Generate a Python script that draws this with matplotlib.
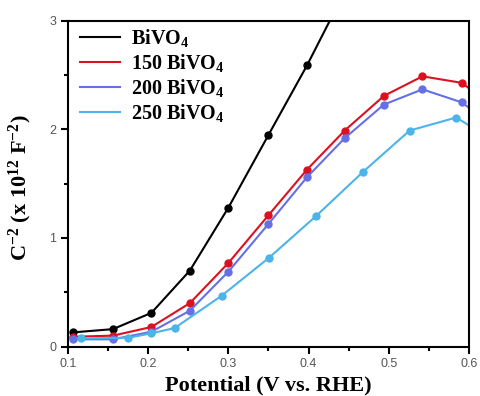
import matplotlib
matplotlib.use("Agg")
import matplotlib.pyplot as plt
from matplotlib.ticker import MultipleLocator

plt.rcParams["mathtext.fontset"] = "custom"
plt.rcParams["mathtext.rm"] = "Liberation Serif:bold"
plt.rcParams["mathtext.it"] = "Liberation Serif:bold"
plt.rcParams["mathtext.bf"] = "Liberation Serif:bold"
plt.rcParams["mathtext.default"] = "rm"

labels = ["BiVO$_4$", "150 BiVO$_4$", "200 BiVO$_4$", "250 BiVO$_4$"]
colors = ["#000000", "#dd1020", "#6670e6", "#4cb4e8"]

x_bivo4 = [0.106, 0.156, 0.204, 0.252, 0.300, 0.350, 0.398, 0.447]
y_bivo4 = [0.13, 0.16, 0.31, 0.70, 1.28, 1.95, 2.59, 3.30]

x_150 = [0.106, 0.156, 0.204, 0.252, 0.300, 0.350, 0.398, 0.445, 0.494, 0.542, 0.591, 0.640]
y_150 = [0.09, 0.10, 0.18, 0.40, 0.77, 1.21, 1.63, 1.99, 2.31, 2.49, 2.43, 2.16]

x_200 = [0.106, 0.156, 0.204, 0.252, 0.300, 0.350, 0.398, 0.445, 0.494, 0.542, 0.591, 0.640]
y_200 = [0.066, 0.066, 0.136, 0.33, 0.69, 1.13, 1.56, 1.92, 2.23, 2.37, 2.25, 1.98]

x_250 = [0.116, 0.175, 0.203, 0.233, 0.292, 0.351, 0.409, 0.468, 0.526, 0.584, 0.640]
y_250 = [0.075, 0.08, 0.12, 0.17, 0.47, 0.82, 1.20, 1.61, 1.99, 2.11, 1.86]

xs = [x_bivo4, x_150, x_200, x_250]
ys = [y_bivo4, y_150, y_200, y_250]

fig = plt.figure(figsize=(4.8, 3.96), dpi=100)
ax = fig.add_axes([0.1417, 0.125, 0.977 - 0.1417, 0.947 - 0.125])

for x, y, c, lab in zip(xs, ys, colors, labels):
    ax.plot(x, y, color=c, lw=1.5, marker="o", ms=5, label=lab)

ax.set_xlim(0.1, 0.6)
ax.set_ylim(0, 3)
ax.xaxis.set_minor_locator(MultipleLocator(0.05))
ax.yaxis.set_minor_locator(MultipleLocator(0.5))
ax.set_yticks([0, 1, 2, 3])
ax.set_yticklabels(["0", "1", "2", "3"])
ax.set_xticks([0.1, 0.2, 0.3, 0.4, 0.5, 0.6])
ax.set_xticklabels(["0.1", "0.2", "0.3", "0.4", "0.5", "0.6"])

ax.tick_params(which="both", direction="out", top=False, right=False,
               labelsize=9, labelcolor="#555555", width=1.5)
ax.tick_params(which="major", length=5)
ax.tick_params(which="minor", length=3)
for s in ax.spines.values():
    s.set_linewidth(1.5)

for lab in ax.get_xticklabels() + ax.get_yticklabels():
    lab.set_family("Liberation Sans")

ax.set_xlabel("Potential (V vs. RHE)", fontsize=16, fontweight="bold",
              family="Liberation Serif", labelpad=4)
ax.set_ylabel("C$^{-2}$ (x 10$^{12}$ F$^{-2}$)", fontsize=16, fontweight="bold",
              family="Liberation Serif")
ax.yaxis.set_label_coords(-0.085, 0.487)

leg_handles = [plt.Line2D([], [], color=c, lw=1.5) for c in colors]
leg = ax.legend(leg_handles, labels, loc="upper left", frameon=False,
                prop={"family": "Liberation Serif", "weight": "bold", "size": 14.5},
                handlelength=2.0, handletextpad=0.55, labelspacing=0.15,
                borderaxespad=0.0, bbox_to_anchor=(0.01, 1.005))

fig.savefig("out.png", dpi=100)
